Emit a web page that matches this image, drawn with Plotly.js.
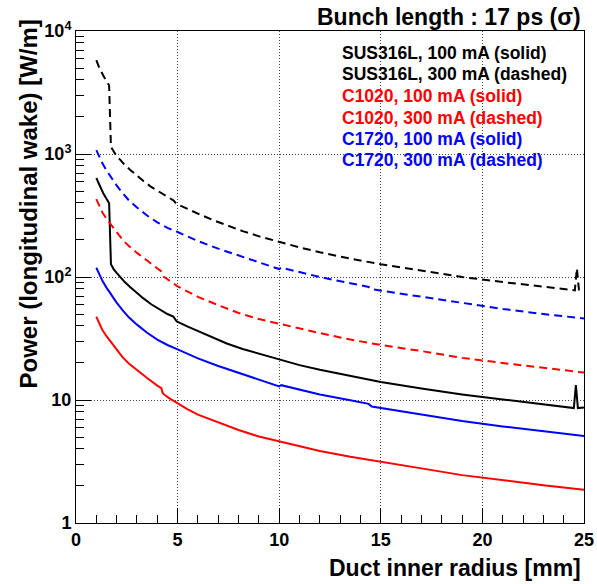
<!DOCTYPE html>
<html>
<head>
<meta charset="utf-8">
<script src="https://cdn.plot.ly/plotly-3.0.1.min.js"></script>
<style>html,body{margin:0;padding:0;background:#fff;}#chart{width:597px;height:584px;}</style>
</head>
<body>
<div id="chart"></div>
<script>
// ---- data ----
var sus100X = [1.0, 1.15, 1.34, 1.5, 1.63, 1.72, 1.85, 2.0, 2.17, 2.4, 2.66, 3.0, 3.32, 3.7, 4.14, 4.5, 4.79, 4.96, 5.5, 6.1, 6.7, 7.42, 8.2, 9.06, 10, 11, 12, 13.5, 15, 17, 19, 21, 23, 24.5, 24.6, 24.7, 25];
var sus100Y = [638, 560, 480, 432, 398, 127, 116, 108, 100, 91, 83, 74, 67, 60, 54, 50, 47.6, 43.5, 39.5, 35.8, 32.3, 28.8, 26, 23.7, 21.2, 19.2, 17.6, 15.6, 14.0, 12.4, 11.1, 10.1, 9.2, 8.6, 13.2, 8.6, 8.7];

var sus300X = [1.0, 1.15, 1.34, 1.5, 1.63, 1.72, 1.85, 2.0, 2.17, 2.4, 2.66, 3.0, 3.32, 3.7, 4.14, 4.5, 4.79, 4.96, 5.5, 6.1, 6.7, 7.42, 8.2, 9.06, 10, 11, 12, 13.5, 15, 17, 19, 21, 23, 24.55, 24.65, 24.75, 25];
var sus300Y = [5800, 5000, 4350, 3900, 3600, 1140, 1040, 960, 900, 815, 745, 665, 603, 540, 485, 450, 420, 392, 355, 322, 292, 262, 236, 213, 192, 174, 159, 141, 127, 112, 100, 91, 83, 78, 118, 79, 79];

var c1020_100X = [1.0, 1.15, 1.3, 1.5, 1.75, 2.0, 2.3, 2.6, 3.0, 3.5, 4.0, 4.2, 4.25, 4.3, 4.6, 5.0, 5.5, 6.0, 7.0, 8.0, 9.0, 10, 11, 12, 13.5, 15, 17, 19, 21, 23, 25];
var c1020_100Y = [47.5, 41.5, 37, 33, 29, 25.5, 22.2, 19.8, 17.5, 15.1, 13.1, 12.5, 11.6, 11.2, 10.3, 9.35, 8.4, 7.6, 6.55, 5.7, 5.05, 4.6, 4.2, 3.85, 3.45, 3.13, 2.78, 2.45, 2.22, 2.03, 1.86];

var c1020_300X = [1.0, 1.15, 1.3, 1.5, 1.75, 2.0, 2.3, 2.6, 3.0, 3.5, 4.0, 4.2, 4.3, 4.6, 5.0, 5.5, 6.0, 7.0, 8.0, 9.0, 10, 11, 12, 13.5, 15, 17, 19, 21, 23, 25];
var c1020_300Y = [430, 375, 335, 298, 262, 230, 200, 179, 157, 136, 118, 111, 101, 93, 84, 76, 69, 59, 51, 45.5, 41.5, 38, 35, 31, 28, 25, 22, 20, 18.3, 16.7];

var c1720_100X = [1.0, 1.15, 1.3, 1.5, 1.75, 2.0, 2.3, 2.6, 3.0, 3.5, 4.0, 4.5, 5.0, 5.5, 6.0, 7.0, 8.0, 9.0, 10.0, 10.1, 11, 12, 13.5, 14.4, 14.55, 15, 17, 19, 21, 23, 25];
var c1720_100Y = [119, 104, 93, 82, 71, 62, 53.5, 47, 41, 35.2, 31, 28, 25.8, 23.6, 21.8, 18.9, 16.6, 14.6, 12.9, 13.2, 12.1, 11.1, 9.95, 9.3, 8.85, 8.6, 7.6, 6.75, 6.1, 5.55, 5.1];

var c1720_300X = [1.0, 1.15, 1.3, 1.5, 1.75, 2.0, 2.3, 2.6, 3.0, 3.5, 4.0, 4.5, 5.0, 5.5, 6.0, 7.0, 8.0, 9.0, 10.0, 10.1, 11, 12, 13.5, 14.4, 14.55, 15, 17, 19, 21, 23, 25];
var c1720_300Y = [1075, 935, 840, 735, 635, 555, 480, 420, 367, 316, 278, 251, 232, 212, 196, 170, 149, 132, 116, 119, 109, 100, 89, 83, 79.5, 77.5, 68.5, 61, 55, 50, 46];

var seriesNames = ["SUS316L, 100 mA (solid)", "SUS316L, 300 mA (dashed)", "C1020, 100 mA (solid)", "C1020, 300 mA (dashed)", "C1720, 100 mA (solid)", "C1720, 300 mA (dashed)"];
var yTickVals = [1, 10, 100, 1000, 10000];
var yTickText = ["1", "10", "10<sup>2</sup>", "10<sup>3</sup>", "10<sup>4</sup>"];
var titleText = "Bunch length : 17 ps (σ)";
var xTitle = "Duct inner radius [mm]";
var yTitle = "Power (longitudinal wake) [W/m]";

// ---- styling ----
var colors = ["#000000", "#000000", "#ff0000", "#ff0000", "#0000ff", "#0000ff"];
var dashes = ["solid", "8px,5px", "solid", "8px,5px", "solid", "8px,5px"];
var xs = [sus100X, sus300X, c1020_100X, c1020_300X, c1720_100X, c1720_300X];
var ys = [sus100Y, sus300Y, c1020_100Y, c1020_300Y, c1720_100Y, c1720_300Y];

var traces = [];
for (var i = 0; i < xs.length; i++) {
  traces.push({x: xs[i], y: ys[i], type: "scatter", mode: "lines", name: seriesNames[i],
    line: {color: colors[i], width: 2, dash: dashes[i]}, hoverinfo: "skip"});
}

var minorY = [];
for (var d = 1; d <= 1000; d *= 10) { for (var k = 2; k <= 9; k++) minorY.push(k * d); }

var L = 76, R = 584, T = 31, B = 523;
function px2x(p) { return (p - L) / (R - L); }
function py2y(p) { return (B - p) / (B - T); }
var fam = "Liberation Sans, Arial, sans-serif";

var annotations = [
  {text: "<b>" + titleText + "</b>", x: px2x(583), y: py2y(17), xanchor: "right", yanchor: "middle",
   font: {family: fam, size: 23, color: "#000"}},
  {text: "<b>" + xTitle + "</b>", x: px2x(583), y: py2y(568), xanchor: "right", yanchor: "middle",
   font: {family: fam, size: 23, color: "#000"}},
  {text: "<b>" + yTitle + "</b>", x: px2x(28), y: py2y(18), xanchor: "center", yanchor: "top", textangle: -90,
   font: {family: fam, size: 24, color: "#000"}}
];
var legY = [52, 73, 95, 117, 138, 159];
for (var j = 0; j < seriesNames.length; j++) {
  annotations.push({text: "<b>" + seriesNames[j] + "</b>", x: px2x(340), y: py2y(legY[j] + 1),
    xanchor: "left", yanchor: "middle", font: {family: fam, size: 17.5, color: colors[j]}});
}
annotations.forEach(function(a){ a.xref = "paper"; a.yref = "paper"; a.showarrow = false; });

var axisCommon = {
  showline: true, linecolor: "#000", linewidth: 1, mirror: true,
  ticks: "inside", ticklen: 15, tickwidth: 1, tickcolor: "#000",
  showgrid: true, gridcolor: "#444", gridwidth: 1, griddash: "1px,2px",
  zeroline: false,
  tickfont: {family: fam, size: 18, color: "#000", weight: "bold"}
};

var layout = {
  width: 597, height: 584,
  margin: {l: L, r: 597 - R, t: T, b: 584 - B, pad: 0},
  paper_bgcolor: "#fff", plot_bgcolor: "#fff",
  showlegend: false,
  xaxis: Object.assign({}, axisCommon, {range: [0, 25], tick0: 0, dtick: 5,
    minor: {ticks: "inside", ticklen: 8, tickwidth: 1, tickcolor: "#000", dtick: 1, tick0: 0, showgrid: false}}),
  yaxis: Object.assign({}, axisCommon, {type: "log", range: [0, 4], tickmode: "array",
    tickvals: yTickVals, ticktext: yTickText,
    minor: {ticks: "inside", ticklen: 8, tickwidth: 1, tickcolor: "#000", tickmode: "array", tickvals: minorY, showgrid: false}}),
  annotations: annotations
};

Plotly.newPlot("chart", traces, layout, {staticPlot: true, displayModeBar: false});
</script>
</body>
</html>
